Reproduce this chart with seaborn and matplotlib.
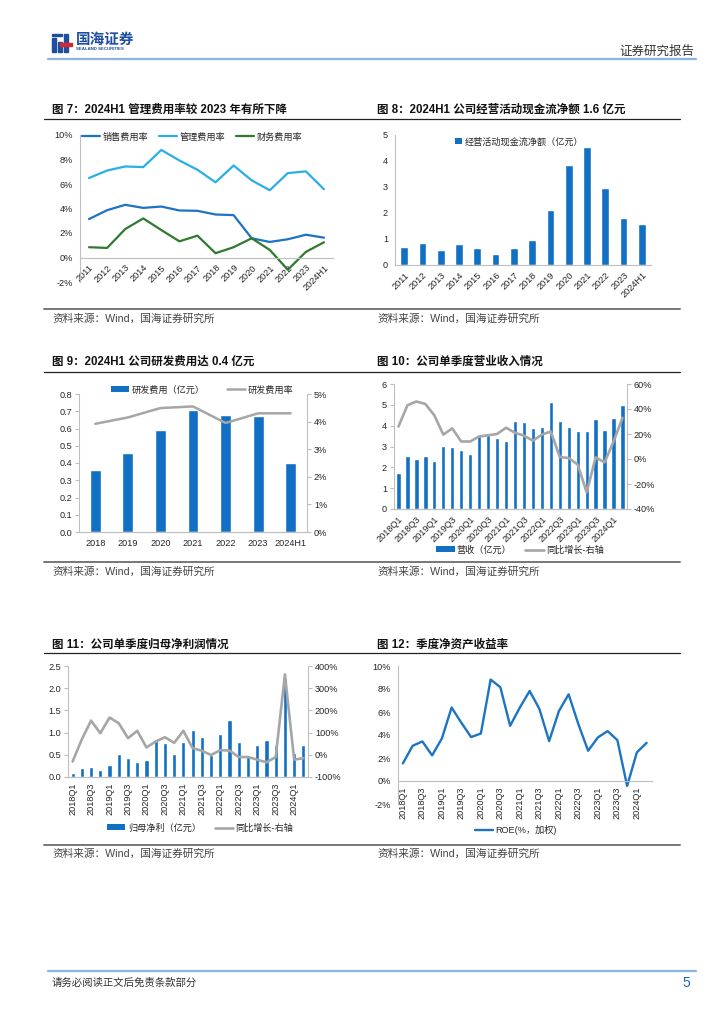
import numpy as np
import pandas as pd
import seaborn as sns
import matplotlib
matplotlib.use("Agg")
import matplotlib.pyplot as plt
from matplotlib.lines import Line2D
from matplotlib.patches import Patch, Rectangle

# ---------------- data ----------------
years7 = ['2011', '2012', '2013', '2014', '2015', '2016', '2017', '2018', '2019',
          '2020', '2021', '2022', '2023', '2024H1']
sales_rate = [3.14, 3.86, 4.30, 4.05, 4.16, 3.84, 3.81, 3.51, 3.46, 1.57, 1.27, 1.49, 1.86, 1.62]
mgmt_rate = [6.49, 7.10, 7.43, 7.38, 8.78, 7.92, 7.16, 6.14, 7.51, 6.30, 5.49, 6.89, 7.03, 5.57]
fin_rate = [0.84, 0.78, 2.32, 3.19, 2.24, 1.32, 1.78, 0.35, 0.84, 1.57, 0.62, -1.00, 0.46, 1.24]

cash_flow = [0.68, 0.85, 0.59, 0.80, 0.67, 0.44, 0.67, 0.96, 2.10, 3.84, 4.54, 2.98, 1.79, 1.56]

years9 = ['2018', '2019', '2020', '2021', '2022', '2023', '2024H1']
rd_exp = [0.36, 0.46, 0.59, 0.71, 0.68, 0.67, 0.40]
rd_rate = [3.92, 4.15, 4.49, 4.55, 3.95, 4.30, 4.30]

quarters = ['2018Q1', '2018Q2', '2018Q3', '2018Q4', '2019Q1', '2019Q2', '2019Q3', '2019Q4',
            '2020Q1', '2020Q2', '2020Q3', '2020Q4', '2021Q1', '2021Q2', '2021Q3', '2021Q4',
            '2022Q1', '2022Q2', '2022Q3', '2022Q4', '2023Q1', '2023Q2', '2023Q3', '2023Q4',
            '2024Q1', '2024Q2']
revenue = [1.74, 2.53, 2.38, 2.53, 2.32, 3.02, 2.96, 2.85, 2.66, 3.54, 3.54, 3.41, 3.28, 4.24,
           4.18, 3.90, 3.94, 5.15, 4.24, 3.94, 3.76, 3.76, 4.32, 3.81, 4.37, 5.01]
rev_yoy = [26, 43, 46, 44, 35, 19.5, 24.5, 14, 14, 18, 19, 20, 25, 21, 18.7, 14.7, 19.5, 22,
           1.6, 0.8, -4.5, -26.7, 1.3, -2.7, 14, 33]
profit = [0.10, 0.21, 0.23, 0.15, 0.28, 0.51, 0.43, 0.33, 0.39, 0.82, 0.77, 0.52, 0.79, 1.06,
          0.90, 0.50, 0.96, 1.29, 0.79, 0.47, 0.71, 0.84, 0.71, 2.22, 0.54, 0.71]
profit_yoy = [-30, 70, 154, 97, 168, 142, 75, 108, 33, 60, 79, 54, 108, 30, 18, -1, 21, 19,
              -10, -10, -22, -34, -10, 362, -22, -15]
roe = [1.53, 3.06, 3.44, 2.23, 3.70, 6.39, 5.06, 3.82, 4.13, 8.82, 8.15, 4.80, 6.39, 7.83,
       6.27, 3.47, 6.07, 7.54, 4.94, 2.63, 3.79, 4.34, 3.55, -0.43, 2.49, 3.32]

# ---------------- style ----------------
sns.set_theme(style="white")
plt.rcParams['font.family'] = ['Liberation Sans', 'Noto Sans CJK SC', 'DejaVu Sans']
plt.rcParams['axes.unicode_minus'] = True

BAR = '#1170C4'
SALES = '#1D72C2'
MGMT = '#2AAEE6'
FIN = '#2E7A2E'
GRAY = '#A6A6A6'
ROE = '#1C74C2'
SP = '#BFBFBF'
TXT = '#262626'
FS = 6.6

W, H = 724, 1024
fig = plt.figure(figsize=(W / 100, H / 100), dpi=100)


def axpx(l, t, r, b):
    return fig.add_axes([l / W, 1 - b / H, (r - l) / W, (b - t) / H])


def fy(y):
    return 1 - y / H


def fx(x):
    return x / W


def hline(x0, x1, y, color, lw):
    fig.add_artist(Line2D([fx(x0), fx(x1)], [fy(y), fy(y)], color=color, lw=lw,
                          transform=fig.transFigure))


def style(ax, right=False):
    ax.set_facecolor('none')
    ax.spines['top'].set_visible(False)
    ax.spines['right'].set_visible(right)
    for s in ['left', 'bottom', 'right']:
        ax.spines[s].set_color(SP)
        ax.spines[s].set_linewidth(0.8)
    ax.tick_params(axis='both', labelsize=FS, labelcolor=TXT, length=0, pad=2)
    ax.tick_params(axis='y', length=3, color=SP, width=0.8)
    ax.set_xlabel('')
    ax.set_ylabel('')
    ax.grid(False)


def pct_fmt(vals):
    return [f'{v:.0f}%' for v in vals]


def legend(handles, labels, cx, cy, colsp=1.2, hl=2.0):
    fig.legend(handles, labels, loc='center', bbox_to_anchor=(fx(cx), fy(cy)),
               ncol=len(handles), frameon=False, fontsize=FS, handlelength=hl,
               handletextpad=0.25, columnspacing=colsp, labelcolor=TXT,
               handleheight=0.6, borderaxespad=0, borderpad=0)


def line_h(c, lw=1.6):
    return Line2D([0], [0], color=c, lw=lw)


def bar_h(c):
    return Patch(facecolor=c, edgecolor='none')


# ---------------- header / footer ----------------
fig.patches.append(Rectangle((fx(52), fy(52)), 4 / W, 14 / H, color='#1F4E9E', transform=fig.transFigure))
fig.patches.append(Rectangle((fx(58), fy(52)), 4 / W, 10 / H, color='#1F4E9E', transform=fig.transFigure))
fig.patches.append(Rectangle((fx(64), fy(52)), 4 / W, 18 / H, color='#1F4E9E', transform=fig.transFigure))
fig.patches.append(Rectangle((fx(52), fy(36)), 10 / W, 2.5 / H, color='#1F4E9E', transform=fig.transFigure))
fig.patches.append(Rectangle((fx(60), fy(46)), 12 / W, 3 / H, color='#D9262C', transform=fig.transFigure))
fig.text(fx(76), fy(39), '国海证券', fontsize=10.5, fontweight='bold', color='#1F4E9E',
         va='center', ha='left', family=['Noto Sans CJK SC'])
fig.text(fx(76), fy(49), 'SEALAND SECURITIES', fontsize=3.2, color='#1F4E9E', va='center', ha='left',
         fontweight='bold')
fig.text(fx(694), fy(51), '证券研究报告', fontsize=9, color='#333333', va='center', ha='right',
         family=['Noto Sans CJK SC'])
hline(48, 696, 59, '#8DB3E2', 1.6)

hline(48, 696, 971, '#8DB3E2', 1.6)
fig.text(fx(52), fy(983), '请务必阅读正文后免责条款部分', fontsize=7.5, color='#333333', va='center',
         ha='left', family=['Noto Sans CJK SC'])
fig.text(fx(690), fy(983), '5', fontsize=10, color='#1F5FBF', va='center', ha='right')

# titles, rules, sources
titles = [
    (52, 110, '图 7：2024H1 管理费用率较 2023 年有所下降'),
    (377, 110, '图 8：2024H1 公司经营活动现金流净额 1.6 亿元'),
    (52, 362, '图 9：2024H1 公司研发费用达 0.4 亿元'),
    (377, 362, '图 10：公司单季度营业收入情况'),
    (52, 645, '图 11：公司单季度归母净利润情况'),
    (377, 645, '图 12：季度净资产收益率'),
]
for x, y, t in titles:
    fig.text(fx(x), fy(y), t, fontsize=8.3, fontweight='bold', color='#111111', va='center', ha='left')
for y in [119, 372, 653]:
    hline(44, 680, y, '#222222', 0.9)
for y in [309, 562, 845]:
    hline(44, 680, y, '#777777', 1.4)
for y in [319, 572, 854]:
    for x in [52, 377]:
        fig.text(fx(x), fy(y), '资料来源：Wind，国海证券研究所', fontsize=7.7, color='#444444',
                 va='center', ha='left')

# ---------------- Fig 7 ----------------
ax = axpx(80, 135, 333, 282)
idx7 = np.arange(len(years7))
df7 = pd.DataFrame({'x': idx7, 'sales': sales_rate, 'mgmt': mgmt_rate, 'fin': fin_rate})
sns.lineplot(data=df7, x='x', y='sales', ax=ax, color=SALES, lw=1.6)
sns.lineplot(data=df7, x='x', y='mgmt', ax=ax, color=MGMT, lw=1.6)
sns.lineplot(data=df7, x='x', y='fin', ax=ax, color=FIN, lw=1.6)
style(ax)
ax.set_xlim(-0.5, len(years7) - 0.5)
ax.set_ylim(-2, 10)
yt = [-2, 0, 2, 4, 6, 8, 10]
ax.set_yticks(yt)
ax.set_yticklabels(pct_fmt(yt))
ax.spines['bottom'].set_position(('data', 0))
ax.set_xticks(idx7)
ax.set_xticklabels(years7, rotation=45, ha='right', va='top', rotation_mode='anchor')
ax.tick_params(axis='x', pad=4)
legend([line_h(SALES), line_h(MGMT), line_h(FIN)], ['销售费用率', '管理费用率', '财务费用率'],
       192, 137, colsp=1.2)

# ---------------- Fig 8 ----------------
ax = axpx(395, 135, 651, 265)
sns.barplot(x=years7, y=cash_flow, ax=ax, color=BAR, width=0.42, saturation=1)
style(ax)
ax.set_xlim(-0.5, len(years7) - 0.5)
ax.set_ylim(0, 5)
ax.set_yticks([0, 1, 2, 3, 4, 5])
ax.set_yticklabels(['0', '1', '2', '3', '4', '5'])
ax.set_xticks(np.arange(len(years7)))
ax.set_xticklabels(years7, rotation=45, ha='right', va='top', rotation_mode='anchor')
ax.tick_params(axis='x', pad=4)
legend([bar_h(BAR)], ['经营活动现金流净额（亿元）'], 519, 142, hl=0.8)

# ---------------- Fig 9 ----------------
ax = axpx(79, 394, 307, 532)
sns.barplot(x=years9, y=rd_exp, ax=ax, color=BAR, width=0.33, saturation=1)
style(ax)
ax2 = ax.twinx()
sns.lineplot(x=np.arange(len(years9)), y=rd_rate, ax=ax2, color=GRAY, lw=1.8)
style(ax2, right=True)
ax2.spines['left'].set_visible(False)
ax.set_xlim(-0.5, len(years9) - 0.5)
ax2.set_xlim(-0.5, len(years9) - 0.5)
ax.set_ylim(0, 0.8)
ax.set_yticks(np.linspace(0, 0.8, 9))
ax.set_yticklabels([f'{v:.1f}' for v in np.linspace(0, 0.8, 9)])
ax2.set_ylim(0, 5)
ax2.set_yticks([0, 1, 2, 3, 4, 5])
ax2.set_yticklabels(pct_fmt([0, 1, 2, 3, 4, 5]))
ax.set_xticks(np.arange(len(years9)))
ax.set_xticklabels(years9)
ax.tick_params(axis='x', pad=5)
legend([bar_h(BAR), line_h(GRAY, 1.8)], ['研发费用（亿元）', '研发费用率'], 202, 390, colsp=2.4)

# ---------------- Fig 10 ----------------
qidx = np.arange(len(quarters))
ax = axpx(394, 384, 627, 509)
sns.barplot(x=quarters, y=revenue, ax=ax, color=BAR, width=0.48, saturation=1)
style(ax)
ax2 = ax.twinx()
sns.lineplot(x=qidx, y=rev_yoy, ax=ax2, color=GRAY, lw=1.9)
style(ax2, right=True)
ax2.spines['left'].set_visible(False)
for a in (ax, ax2):
    a.set_xlim(-0.5, len(quarters) - 0.5)
ax.set_ylim(0, 6)
ax.set_yticks([0, 1, 2, 3, 4, 5, 6])
ax.set_yticklabels(['0', '1', '2', '3', '4', '5', '6'])
ax2.set_ylim(-40, 60)
yt = [-40, -20, 0, 20, 40, 60]
ax2.set_yticks(yt)
ax2.set_yticklabels(pct_fmt(yt))
ax.set_xticks(qidx[::2])
ax.set_xticklabels(quarters[::2], rotation=45, ha='right', va='top', rotation_mode='anchor')
ax.tick_params(axis='x', pad=4)
legend([bar_h(BAR), line_h(GRAY, 1.9)], ['营收（亿元）', '同比增长-右轴'], 520, 550, colsp=1.5)

# ---------------- Fig 11 ----------------
ax = axpx(68, 666, 308, 777)
sns.barplot(x=quarters, y=profit, ax=ax, color=BAR, width=0.45, saturation=1)
style(ax)
ax2 = ax.twinx()
sns.lineplot(x=qidx, y=profit_yoy, ax=ax2, color=GRAY, lw=1.9)
style(ax2, right=True)
ax2.spines['left'].set_visible(False)
for a in (ax, ax2):
    a.set_xlim(-0.5, len(quarters) - 0.5)
ax.set_ylim(0, 2.5)
yt = [0, 0.5, 1.0, 1.5, 2.0, 2.5]
ax.set_yticks(yt)
ax.set_yticklabels([f'{v:.1f}' for v in yt])
ax2.set_ylim(-100, 400)
yt = [-100, 0, 100, 200, 300, 400]
ax2.set_yticks(yt)
ax2.set_yticklabels(pct_fmt(yt))
ax.set_xticks(qidx[::2])
ax.set_xticklabels(quarters[::2], rotation=90, ha='center', va='top')
ax.tick_params(axis='x', pad=4)
legend([bar_h(BAR), line_h(GRAY, 1.9)], ['归母净利（亿元）', '同比增长-右轴'], 200, 828, colsp=1.5)

# ---------------- Fig 12 ----------------
ax = axpx(398, 666, 651.5, 804)
sns.lineplot(x=qidx, y=roe, ax=ax, color=ROE, lw=1.7)
style(ax)
ax.set_xlim(-0.5, len(quarters) - 0.5)
ax.set_ylim(-2, 10)
yt = [-2, 0, 2, 4, 6, 8, 10]
ax.set_yticks(yt)
ax.set_yticklabels(pct_fmt(yt))
ax.spines['bottom'].set_position(('data', 0))
ax.set_xticks(qidx[::2])
ax.set_xticklabels(quarters[::2], rotation=90, ha='center', va='top')
ax.tick_params(axis='x', pad=4)
legend([line_h(ROE, 1.7)], ['ROE(%，加权)'], 516, 830)

fig.savefig('out.png', dpi=100, facecolor='white')
